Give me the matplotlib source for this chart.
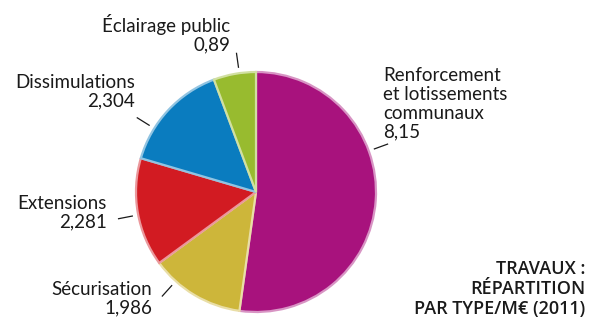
import numpy as np
import matplotlib.pyplot as plt
from matplotlib.colors import to_rgb

plt.rcParams['font.family'] = ['Lato', 'DejaVu Sans']

# Travaux 2011, en millions d'euros
categories = ["Renforcement\net lotissements\ncommunaux", "Sécurisation", "Extensions",
              "Dissimulations", "Éclairage public"]
valeurs = [8.15, 1.986, 2.281, 2.304, 0.89]
etiquettes_valeurs = ["8,15", "1,986", "2,281", "2,304", "0,89"]
couleurs = ["#a8127d", "#cdb63a", "#d21b22", "#0a7cbf", "#98bb2f"]

# placement des étiquettes (angle du trait, position du texte, alignement)
angles_traits = [20, 228, 191, 148, 98]
pos_textes = [(383, 104), (152, 299), (107, 213), (135, 92), (230, 34)]
alignements = ["left", "right", "right", "right", "right"]

def eclaircir(c, f=0.5):
    r, g, b = to_rgb(c)
    return (r + (1 - r) * f, g + (1 - g) * f, b + (1 - b) * f)

fig = plt.figure(figsize=(5.91, 3.2), dpi=100)
ax = fig.add_axes([0, 0, 1, 1])

cx, cy, R = 256, 320 - 192, 120
wedges, _ = ax.pie(valeurs, colors=couleurs, startangle=90, counterclock=False,
                   center=(cx, cy), radius=R,
                   wedgeprops=dict(linewidth=1.6))
for w, c in zip(wedges, couleurs):
    w.set_edgecolor(eclaircir(c, 0.55))

for cat, val, ang, (tx, ty), ha in zip(categories, etiquettes_valeurs, angles_traits,
                                       pos_textes, alignements):
    a = np.radians(ang)
    r1, r2 = 126, 140
    ax.plot([cx + r1 * np.cos(a), cx + r2 * np.cos(a)],
            [cy + r1 * np.sin(a), cy + r2 * np.sin(a)], color="#1a1a1a", lw=0.9)
    ax.text(tx, 320 - ty, cat + "\n" + val, ha=ha, va="center", fontsize=13.5,
            color="#1a1a1a", linespacing=1.12)

ax.text(585, 320 - 289, "TRAVAUX :\nRÉPARTITION\nPAR TYPE/M€ (2011)", ha="right",
        va="center", fontsize=13, fontweight="semibold", color="#1a1a1a",
        linespacing=1.12, family=["Open Sans", "DejaVu Sans"])

ax.set_xlim(0, 591)
ax.set_ylim(0, 320)
ax.set_aspect("equal")
ax.axis("off")

fig.savefig("out.png", dpi=100, facecolor="white")
